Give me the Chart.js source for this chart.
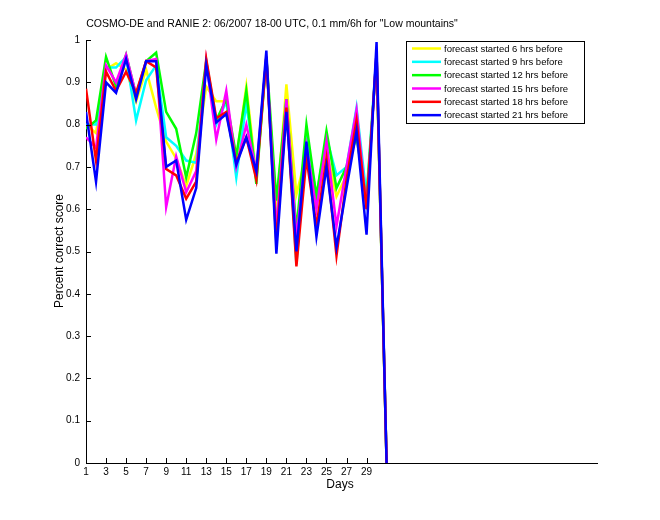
<!DOCTYPE html>
<html>
<head>
<meta charset="utf-8">
<script src="https://cdn.jsdelivr.net/npm/chart.js@4/dist/chart.umd.min.js"></script>
<style>
html,body{margin:0;padding:0;background:#fff;}
canvas{display:block;}
</style>
</head>
<body>
<canvas id="c" width="660" height="520"></canvas>
<script>
const days = [1,2,3,4,5,6,7,8,9,10,11,12,13,14,15,16,17,18,19,20,21,22,23,24,25,26,27,28,29,30,31];
const xTicks = [1,3,5,7,9,11,13,15,17,19,21,23,25,27,29];
const yTicks = [0,0.1,0.2,0.3,0.4,0.5,0.6,0.7,0.8,0.9,1];

const fc6  = [0.80,0.78,0.93,0.945,0.93,0.855,0.93,0.84,0.76,0.72,0.655,0.73,0.89,0.855,0.855,0.72,0.89,0.68,0.95,0.59,0.895,0.635,0.73,0.61,0.74,0.63,0.68,0.78,0.63,0.96,0];
const fc9  = [0.80,0.80,0.935,0.935,0.96,0.81,0.905,0.94,0.77,0.75,0.715,0.71,0.94,0.80,0.855,0.675,0.85,0.68,0.96,0.55,0.86,0.47,0.77,0.63,0.77,0.68,0.70,0.84,0.63,0.97,0];
const fc12 = [0.79,0.81,0.96,0.89,0.965,0.87,0.95,0.97,0.83,0.79,0.675,0.78,0.95,0.81,0.86,0.725,0.88,0.66,0.96,0.62,0.86,0.55,0.80,0.63,0.785,0.65,0.70,0.77,0.62,0.96,0];
const fc15 = [0.77,0.745,0.94,0.90,0.965,0.87,0.95,0.955,0.605,0.725,0.64,0.69,0.95,0.765,0.88,0.70,0.80,0.69,0.96,0.55,0.86,0.53,0.75,0.60,0.76,0.56,0.70,0.835,0.60,0.97,0];
const fc18 = [0.885,0.715,0.925,0.88,0.925,0.875,0.95,0.935,0.695,0.68,0.625,0.665,0.955,0.815,0.83,0.71,0.77,0.67,0.96,0.52,0.84,0.465,0.72,0.56,0.72,0.49,0.67,0.81,0.60,0.97,0];
const fc21 = [0.83,0.665,0.90,0.875,0.955,0.86,0.95,0.95,0.70,0.715,0.575,0.65,0.94,0.805,0.825,0.705,0.77,0.69,0.975,0.495,0.83,0.50,0.76,0.535,0.70,0.51,0.65,0.785,0.54,0.995,0];

const labels = ["forecast started 6 hrs before","forecast started 9 hrs before","forecast started 12 hrs before","forecast started 15 hrs before","forecast started 18 hrs before","forecast started 21 hrs before"];
const series = [fc6, fc9, fc12, fc15, fc18, fc21];
const colors = ["#ffff00","#00ffff","#00ff00","#ff00ff","#ff0000","#0000ff"];

const FONT = "'Liberation Sans', Arial, Helvetica, sans-serif";

const datasets = series.map((s, i) => ({
  label: labels[i],
  data: days.map((d, j) => ({x: d, y: s[j]})),
  borderColor: colors[i],
  backgroundColor: colors[i],
  borderWidth: 2.5,
  pointRadius: 0,
  tension: 0,
  fill: false,
  order: series.length - i
}));

const decor = {
  id: 'decor',
  afterDraw(chart) {
    const ctx = chart.ctx;
    const xs = chart.scales.x, ys = chart.scales.y;
    const a = chart.chartArea;
    ctx.save();
    ctx.strokeStyle = '#000';
    ctx.lineWidth = 1;
    ctx.beginPath();
    xs.ticks.forEach(t => {
      const px = Math.round(xs.getPixelForValue(t.value)) + 0.5;
      ctx.moveTo(px, a.bottom);
      ctx.lineTo(px, a.bottom - 5);
    });
    ys.ticks.forEach(t => {
      const py = Math.round(ys.getPixelForValue(t.value)) + 0.5;
      ctx.moveTo(a.left, py);
      ctx.lineTo(a.left + 5, py);
    });
    ctx.stroke();
    ctx.fillStyle = '#000';
    ctx.font = '10.5px ' + FONT;
    ctx.textAlign = 'center';
    ctx.textBaseline = 'middle';
    ctx.fillText('COSMO-DE and RANIE 2: 06/2007 18-00 UTC, 0.1 mm/6h for "Low mountains"', 272, 24);
    ctx.font = '12px ' + FONT;
    ctx.fillText('Days', 340, 485);
    ctx.save();
    ctx.translate(60, 251);
    ctx.rotate(-Math.PI / 2);
    ctx.fillText('Percent correct score', 0, 0);
    ctx.restore();
    const lx = 406.5, ly = 41.5, lw = 178, lh = 82;
    ctx.fillStyle = '#fff';
    ctx.fillRect(lx, ly, lw, lh);
    ctx.strokeStyle = '#000';
    ctx.lineWidth = 1;
    ctx.strokeRect(lx, ly, lw, lh);
    ctx.font = '9.5px ' + FONT;
    ctx.textAlign = 'left';
    chart.data.datasets.forEach((ds, i) => {
      const cy = 48.5 + i * 13.33;
      ctx.strokeStyle = ds.borderColor;
      ctx.lineWidth = 2.5;
      ctx.beginPath();
      ctx.moveTo(412, cy);
      ctx.lineTo(441, cy);
      ctx.stroke();
      ctx.fillStyle = '#000';
      ctx.fillText(ds.label, 444, cy + 0.5);
    });
    ctx.restore();
  }
};

new Chart(document.getElementById('c'), {
  type: 'line',
  data: { datasets },
  plugins: [decor],
  options: {
    responsive: false,
    animation: false,
    devicePixelRatio: 1,
    layout: { padding: { left: 0, right: 63, top: 40, bottom: 0 } },
    plugins: { legend: { display: false }, tooltip: { enabled: false }, title: { display: false } },
    scales: {
      x: {
        type: 'linear',
        min: 1, max: 52,
        afterFit: s => { s.height = 57; },
        afterBuildTicks: s => { s.ticks = xTicks.map(v => ({ value: v })); },
        ticks: { color: '#000', font: { family: FONT, size: 10 }, autoSkip: false, maxRotation: 0, padding: 3 },
        grid: { display: true, drawOnChartArea: false, drawTicks: false },
        border: { display: true, color: '#000', width: 1 }
      },
      y: {
        type: 'linear',
        min: 0, max: 1,
        afterFit: s => { s.width = 86; },
        afterBuildTicks: s => { s.ticks = yTicks.map(v => ({ value: v })); },
        ticks: { color: '#000', font: { family: FONT, size: 10 }, padding: 6,
                 callback: v => String(Math.round(v * 10) / 10) },
        grid: { display: true, drawOnChartArea: false, drawTicks: false },
        border: { display: true, color: '#000', width: 1 }
      }
    }
  }
});
</script>
</body>
</html>
